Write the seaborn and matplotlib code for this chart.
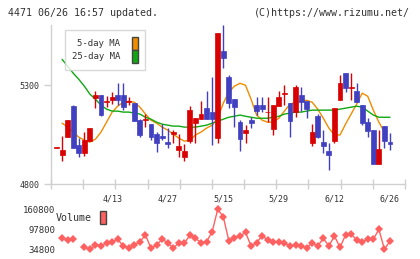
import numpy as np
import seaborn as sns
import matplotlib
matplotlib.use("Agg")
import matplotlib.pyplot as plt
from matplotlib.patches import Patch

# daily candles, 3/30 .. 6/26
opens = [4982, 4947, 5037, 5194, 4997, 4957, 5017, 5234, 5250, 5216,
         5224, 5250, 5250, 5217, 5209, 5123, 5126, 5103, 5053, 5042,
         5012, 5053, 4972, 4936, 5017, 5108, 5128, 5184, 5164, 5032,
         5472, 5340, 5229, 5113, 5058, 5123, 5199, 5199, 5162, 5078,
         5194, 5258, 5209, 5164, 5250, 5219, 5007, 5143, 5012, 4967,
         5017, 5224, 5361, 5288, 5270, 5199, 5113, 5073, 4901, 5093,
         5012]
highs = [4985, 5042, 5123, 5199, 5032, 5063, 5083, 5270, 5250, 5244,
         5265, 5310, 5310, 5239, 5209, 5128, 5154, 5103, 5063, 5103,
         5083, 5073, 5053, 5002, 5194, 5133, 5219, 5270, 5340, 5563,
         5603, 5350, 5229, 5123, 5098, 5138, 5239, 5239, 5239, 5199,
         5270, 5300, 5209, 5300, 5290, 5219, 5103, 5154, 5073, 5007,
         5184, 5350, 5361, 5361, 5310, 5199, 5133, 5073, 5073, 5093,
         5058]
lows = [4980, 4916, 5037, 4982, 4936, 4942, 5017, 5184, 5143, 5189,
        5204, 5199, 5174, 5199, 5118, 5037, 5088, 5022, 4962, 5022,
        4982, 5007, 4936, 4916, 5007, 5007, 5128, 5128, 4997, 5007,
        5386, 5184, 5088, 4967, 5007, 5083, 5149, 5164, 5113, 5048,
        5194, 5199, 5037, 5138, 5169, 5133, 4992, 5032, 4957, 4871,
        5007, 5224, 5265, 5224, 5214, 5098, 5037, 4901, 4901, 4982,
        4972]
closes = [4985, 4972, 5123, 4982, 4957, 5022, 5083, 5250, 5149, 5219,
          5239, 5224, 5189, 5220, 5118, 5048, 5130, 5037, 5007, 5032,
          5002, 5063, 4992, 4967, 5174, 5133, 5154, 5128, 5128, 5563,
          5436, 5209, 5189, 5027, 5073, 5108, 5169, 5179, 5166, 5199,
          5239, 5262, 5118, 5290, 5214, 5179, 5063, 5037, 4992, 4947,
          5184, 5310, 5285, 5292, 5214, 5108, 5068, 4901, 4977, 5017,
          5002]
nan = np.nan
ma5 = [nan, 5108, 5088, 5063, 5037, 5022, 5012, 5027, 5063, 5113,
       5164, 5194, 5214, 5219, 5214, 5189, 5154, 5123, 5108, 5088,
       5073, 5053, 5032, 5017, 5022, 5048, 5063, 5083, 5098, 5133,
       5209, 5265, 5295, 5310, 5300, 5229, 5149, 5123, 5113, 5113,
       5133, 5169, 5204, 5214, 5219, 5224, 5214, 5179, 5133, 5083,
       5048, 5048, 5103, 5154, 5204, 5260, 5244, 5174, 5113, 5063,
       nan]
ma25 = [nan, 5431, 5396, 5361, 5330, 5295, 5255, 5229, 5199, 5179,
        5169, 5169, 5164, 5164, 5159, 5154, 5138, 5128, 5113, 5103,
        5098, 5093, 5093, 5088, 5088, 5088, 5093, 5098, 5108, 5118,
        5128, 5138, 5143, 5149, 5143, 5138, 5133, 5133, 5133, 5138,
        5143, 5154, 5159, 5164, 5164, 5169, 5174, 5174, 5174, 5174,
        5174, 5179, 5184, 5189, 5194, 5189, 5169, 5149, 5138, 5138,
        5138]
volume = [nan, 70700, 63400, 65600, nan, 40200, 33800, 47500, 44300, 54800,
          58000, 65600, 44300, 37000, 47500, 58000, 79200, 37000, 47500, 65600,
          54800, 37000, 54800, 52900, 79200, 68800, 54800, 58000, 89700, 160800,
          137300, 61100, 70700, 75000, 87800, 44300, 54800, 77000, 63400, 58000,
          56000, 52900, 45000, 47500, 44300, 37000, 54800, 44300, 68800, 44300,
          76100, 40200, 79200, 82400, 63400, 58000, 65600, 65600, 97300, 33800,
          60200]
date_pos = [10, 20, 30, 40, 50, 60]
date_labels = ["4/13", "4/27", "5/15", "5/29", "6/12", "6/26"]
price_ticks = [4800, 5300]
volume_ticks = [34800, 97800, 160800]

UP = "#d80000"
DOWN = "#4040c0"
ORANGE = "#f08c00"
GREEN = "#10a810"
VOLC = "#ff6060"
GRID = "#d0d0d0"
TXT = "#333333"

sns.set_theme(style="white")
plt.rcParams["font.family"] = ["DejaVu Sans Mono"]

fig = plt.figure(figsize=(4.2, 2.59), dpi=100)
ax = fig.add_axes([51 / 420, 75 / 259, 354 / 420, 159 / 259])
vax = fig.add_axes([51 / 420, 7 / 259, 354 / 420, 47 / 259])

idx = np.arange(len(closes))
o = np.array(opens)
c = np.array(closes)
colors = [UP if cc >= oo else DOWN for oo, cc in zip(o, c)]

# moving averages below the candles
sns.lineplot(x=idx, y=ma5, ax=ax, color=ORANGE, linewidth=1, legend=False, zorder=2)
sns.lineplot(x=idx, y=ma25, ax=ax, color=GREEN, linewidth=1, legend=False, zorder=2)

ax.vlines(idx, lows, highs, colors=colors, linewidth=1, zorder=3)
ax.bar(idx, np.abs(c - o), bottom=np.minimum(o, c), width=0.88,
       color=colors, edgecolor=colors, linewidth=0.5, zorder=4)

ax.set_xlim(-1, 62.7)
ax.set_ylim(4800, 5605)
ax.set_yticks(price_ticks)
ax.set_yticklabels([str(t) for t in price_ticks])
ax.set_xticks(np.linspace(-1, 62.7, 12))
ax.set_xticklabels([])
ax.set_xticks(date_pos, date_labels, minor=True)
ax.tick_params(axis="x", which="major", direction="inout", length=7, width=1, color=GRID)
ax.tick_params(axis="x", which="minor", length=0, pad=7.5, labelsize=6, labelcolor=TXT)
ax.tick_params(axis="y", direction="out", length=5, width=1, color=GRID,
               pad=3, labelsize=6, labelcolor=TXT)
ax.tick_params(left=True, bottom=True)
ax.set_xlabel("")
ax.set_ylabel("")
for side in ("top", "right"):
    ax.spines[side].set_visible(False)
for side in ("left", "bottom"):
    ax.spines[side].set_color(GRID)
    ax.spines[side].set_linewidth(1)
ax.patch.set_alpha(0)

leg = ax.legend(handles=[Patch(facecolor=ORANGE, edgecolor="#444444", label="5-day MA"),
                         Patch(facecolor=GREEN, edgecolor="#444444", label="25-day MA")],
                loc="upper left", bbox_to_anchor=(65 / 420, 1 - 30 / 259),
                bbox_transform=fig.transFigure, markerfirst=False, frameon=True,
                fancybox=False, edgecolor=GRID, fontsize=6.5, handlelength=0.7,
                handleheight=1.8, labelspacing=0.05, borderpad=0.75,
                handletextpad=1.3, borderaxespad=0)
leg.get_frame().set_linewidth(1)
for t in leg.get_texts():
    t.set_color(TXT)

# volume
vax.plot(idx, volume, color=VOLC, linewidth=1, marker="D", markersize=4,
         markeredgewidth=0)
vax.set_xlim(-1, 62.7)
vax.set_ylim(25300, 174500)
vax.set_yticks(volume_ticks)
vax.set_yticklabels([str(t) for t in volume_ticks])
vax.set_xticks([])
vax.tick_params(axis="y", length=0, pad=-3, labelsize=6.5, labelcolor=TXT)
for s in vax.spines.values():
    s.set_visible(False)
vax.patch.set_alpha(0)
vleg = vax.legend(handles=[Patch(facecolor=VOLC, edgecolor="#444444", label="Volume")],
                  loc="upper left", bbox_to_anchor=(56 / 420, 1 - 211 / 259),
                  bbox_transform=fig.transFigure, markerfirst=False, frameon=False,
                  fontsize=7.2, handlelength=0.6, handleheight=1.6,
                  handletextpad=0.8, borderpad=0, borderaxespad=0)
for t in vleg.get_texts():
    t.set_color(TXT)

fig.text(8 / 420, 1 - 13 / 259, "4471 06/26 16:57 updated.", fontsize=7.2,
         color=TXT, va="center", ha="left")
fig.text(410 / 420, 1 - 13 / 259, "(C)https://www.rizumu.net/", fontsize=7.2,
         color=TXT, va="center", ha="right")

fig.savefig("out.png", dpi=100)
